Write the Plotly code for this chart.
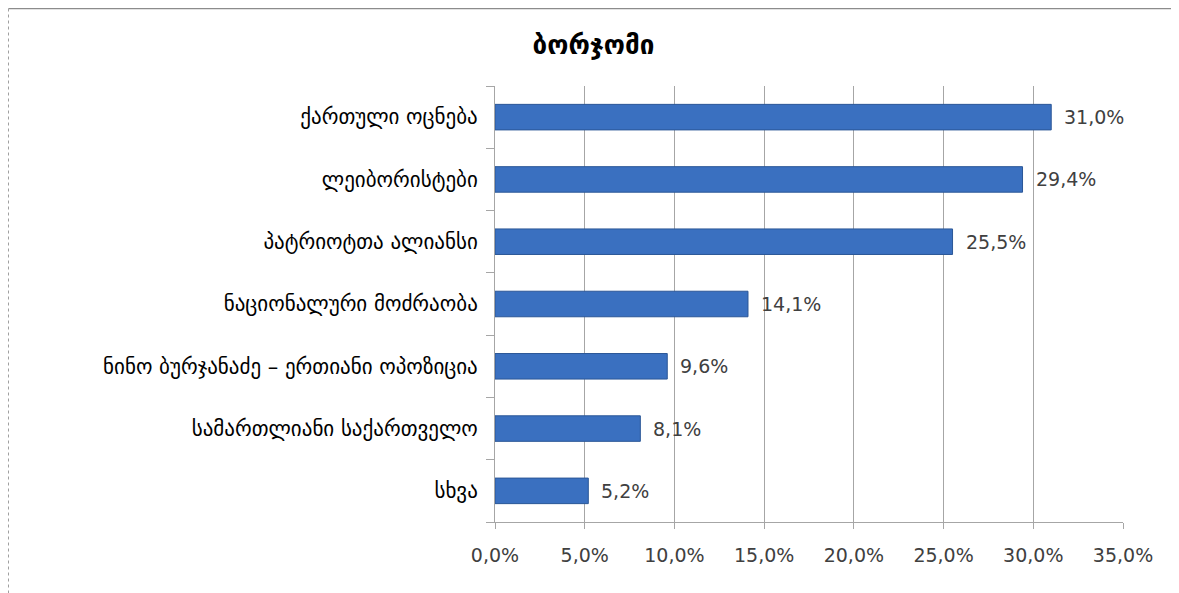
import plotly.graph_objects as go

# ---- data ----
title_text = "ბორჯომი"
categories = [
    "ქართული ოცნება",
    "ლეიბორისტები",
    "პატრიოტთა ალიანსი",
    "ნაციონალური მოძრაობა",
    "ნინო ბურჯანაძე – ერთიანი ოპოზიცია",
    "სამართლიანი საქართველო",
    "სხვა",
]
values = [31.0, 29.4, 25.5, 14.1, 9.6, 8.1, 5.2]
x_ticks = [0, 5, 10, 15, 20, 25, 30, 35]

# ---- layout geometry (pixels, figure coordinates; page has 8px body margin) ----
W, H = 1171, 585
L, R, T, B = 487, 56, 78, 71
pw, ph = W - L - R, H - T - B

def px_to_paper_x(px):
    return (px - L) / pw

def px_to_paper_y(py):
    return (H - B - py) / ph

num_font = "DejaVu Sans, sans-serif"
geo_font = "DejaVu Sans, sans-serif"
txt_color = "#404040"
grid_color = "#A6A6A6"

cats_rev = categories[::-1]
vals_rev = values[::-1]

fig = go.Figure()
fig.add_trace(go.Bar(
    x=vals_rev,
    y=cats_rev,
    orientation="h",
    marker=dict(color="#3A70C0", line=dict(color="#2B5797", width=1)),
    width=0.41,
    hoverinfo="skip",
))

for c, v in zip(cats_rev, vals_rev):
    fig.add_annotation(
        x=v, y=c, xref="x", yref="y",
        text=f"{v:.1f}%".replace(".", ","),
        showarrow=False, xanchor="left", xshift=11,
        font=dict(family=num_font, size=19, color=txt_color),
    )

# border lines (top and left) of the chart frame
fig.add_shape(type="line", xref="paper", yref="paper",
              x0=px_to_paper_x(0.5), x1=px_to_paper_x(W + 5),
              y0=px_to_paper_y(0.5), y1=px_to_paper_y(0.5),
              line=dict(color="#8C8C8C", width=1.5))
fig.add_shape(type="line", xref="paper", yref="paper",
              x0=px_to_paper_x(0.5), x1=px_to_paper_x(0.5),
              y0=px_to_paper_y(0.5), y1=px_to_paper_y(H + 5),
              line=dict(color="#A0A0A0", width=1, dash="dot"))

fig.update_layout(
    width=W, height=H,
    margin=dict(l=L, r=R, t=T, b=B),
    paper_bgcolor="white",
    plot_bgcolor="white",
    separators=", ",
    showlegend=False,
    title=dict(
        text=f"<b>{title_text}</b>",
        x=0.5, xref="container", xanchor="center",
        y=1 - 37 / H, yanchor="middle",
        font=dict(family=geo_font, size=26, color="#000000"),
    ),
    xaxis=dict(
        range=[0, 35],
        tickvals=x_ticks,
        ticktext=[f"{t:.1f}%".replace(".", ",") for t in x_ticks],
        showgrid=True, gridcolor=grid_color, gridwidth=1,
        showline=True, linecolor=grid_color, linewidth=1,
        ticks="outside", ticklen=6, tickcolor=grid_color,
        tickfont=dict(family=num_font, size=19, color=txt_color),
        zeroline=False,
        automargin=False,
        ticklabelstandoff=10,
    ),
    yaxis=dict(
        categoryorder="array", categoryarray=cats_rev,
        showgrid=False,
        showline=True, linecolor=grid_color, linewidth=1,
        ticks="outside", ticklen=8, tickcolor=grid_color,
        tickson="boundaries",
        tickfont=dict(family=geo_font, size=21, color="#000000"),
        automargin=False,
        ticklabelstandoff=12,
    ),
)

fig.write_html("out.html")
